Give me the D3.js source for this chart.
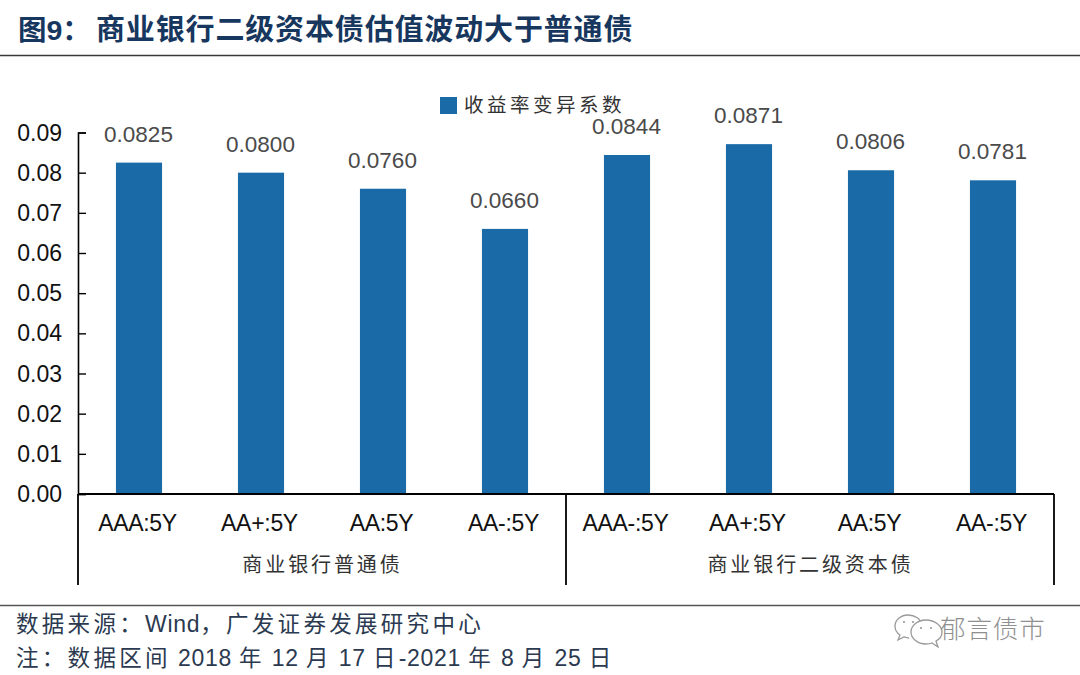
<!DOCTYPE html>
<html><head><meta charset="utf-8">
<script src="https://cdn.jsdelivr.net/npm/d3@7"></script>
<style>html,body{margin:0;padding:0;background:#fff}svg{display:block}
text{font-family:"Liberation Sans","Noto Sans CJK SC",sans-serif}</style></head>
<body><svg id="c" width="1080" height="675"></svg>
<script>
const titleText = ["图","9\uFF1A","商业银行二级资本债估值波动大于普通债"];
const categories = ["AAA:5Y","AA+:5Y","AA:5Y","AA-:5Y","AAA-:5Y","AA+:5Y","AA:5Y","AA-:5Y"];
const values = [0.0825,0.0800,0.0760,0.0660,0.0844,0.0871,0.0806,0.0781];
const valueLabels = ["0.0825","0.0800","0.0760","0.0660","0.0844","0.0871","0.0806","0.0781"];
const groups = ["商业银行普通债","商业银行二级资本债"];
const yTicks = [0,0.01,0.02,0.03,0.04,0.05,0.06,0.07,0.08,0.09];
const legendLabel = "收益率变异系数";
const source = "数据来源\uFF1AWind\uFF0C广发证券发展研究中心";
const note = "注\uFF1A数据区间 2018 年 12 月 17 日-2021 年 8 月 25 日";
const watermark = "郁言债市";

const svg = d3.select("#c");
const cjk = '"Noto Sans CJK SC",sans-serif';
const x = d3.scaleBand().domain(d3.range(categories.length)).range([78,1054]).paddingInner(0.622).paddingOuter(0.311);
const y = d3.scaleLinear().domain([0,0.09]).range([494,132.5]);
const gx = d3.scaleBand().domain(d3.range(groups.length)).range([78,1054]);

// title
const t = svg.append("text").attr("x",18).attr("y",40).attr("fill","#17375e")
  .attr("font-size",28.5).attr("font-weight",700).attr("font-family",cjk);
t.append("tspan").text(titleText[0]);
t.append("tspan").text(titleText[1]);
t.append("tspan").text(titleText[2]).attr("x",96).attr("font-size",29).attr("letter-spacing",0.85);
svg.append("line").attr("x1",0).attr("x2",1080).attr("y1",55.5).attr("y2",55.5).attr("stroke","#3a3a3a").attr("stroke-width",1.6);

// bars
svg.selectAll("rect.bar").data(values).join("rect").attr("class","bar")
  .attr("x",(d,i)=>x(i)).attr("width",x.bandwidth())
  .attr("y",d=>y(d)).attr("height",d=>y(0)-y(d)).attr("fill","#1a6aa8");
svg.selectAll("text.val").data(valueLabels).join("text").attr("class","val")
  .attr("x",(d,i)=>x(i)+x.bandwidth()/2-0.5).attr("y",(d,i)=>y(values[i])-21)
  .attr("text-anchor","middle").attr("font-size",22.5).attr("fill","#4a4a4a").text(d=>d);

// y axis
const yAxis = d3.axisRight(y).tickValues(yTicks).tickSize(8).tickFormat("");
const ya = svg.append("g").attr("transform","translate(78,0)").call(yAxis);
ya.selectAll("path").attr("stroke","#000").attr("stroke-width",1.6);
ya.selectAll("line").attr("stroke","#000").attr("stroke-width",1.4);
svg.selectAll("text.yt").data(yTicks).join("text").attr("class","yt")
  .attr("x",62).attr("y",d=>y(d)+8).attr("text-anchor","end")
  .attr("font-size",23).attr("fill","#111").text(d=>d3.format(".2f")(d));

// x axis and group separators
svg.append("line").attr("x1",78).attr("x2",1054).attr("y1",y(0)).attr("y2",y(0)).attr("stroke","#000").attr("stroke-width",1.8);
svg.selectAll("line.sep").data([0,1,2]).join("line").attr("class","sep")
  .attr("x1",d=>d<2?gx(d):1054).attr("x2",d=>d<2?gx(d):1054)
  .attr("y1",y(0)).attr("y2",585).attr("stroke","#000").attr("stroke-width",1.8);
svg.selectAll("text.cat").data(categories).join("text").attr("class","cat")
  .attr("x",(d,i)=>x(i)+x.bandwidth()/2-1.5).attr("y",531).attr("text-anchor","middle")
  .attr("font-size",23).attr("fill","#111").attr("letter-spacing",-0.3).text(d=>d);
svg.selectAll("text.grp").data(groups).join("text").attr("class","grp")
  .attr("x",(d,i)=>gx(i)+gx.bandwidth()/2+0.5).attr("y",572).attr("text-anchor","middle")
  .attr("font-size",20).attr("fill","#333").attr("letter-spacing",2.9)
  .attr("font-family",cjk).text(d=>d);

// legend
svg.append("rect").attr("x",440).attr("y",97).attr("width",17).attr("height",17).attr("fill","#1a6aa8");
svg.append("text").attr("x",464).attr("y",112).attr("font-size",19.5).attr("letter-spacing",3.5)
  .attr("fill","#333").attr("font-family",cjk).text(legendLabel);

// footer: CJK runs are spaced wider than Latin runs
function mixed(str, yPos){
  const el = svg.append("text").attr("x",16).attr("y",yPos).attr("font-size",23).attr("fill","#2b3a50");
  str.split(/([\x00-\x7F]+)/).filter(s=>s).forEach(s=>{
    const latin = /^[\x00-\x7F]+$/.test(s);
    el.append("tspan").style("white-space","pre")
      .attr("letter-spacing",latin?0.7:3.3).attr("font-size",latin?23:22.5).text(s);
  });
}
svg.append("line").attr("x1",0).attr("x2",1080).attr("y1",605.5).attr("y2",605.5).attr("stroke","#555").attr("stroke-width",1.4);
mixed(source,632);
mixed(note,666);

// watermark
const wm = svg.append("g").attr("fill","#fff").attr("stroke","#9a9a9a").attr("stroke-width",1.3);
wm.append("path").attr("d","M908 615c-7 0-13 5-13 11 0 4 2 7 5 9l-2 5 6-3c2 0 3 1 5 1 M908 615c7 0 13 4 14 10");
wm.append("path").attr("d","M926 620c-9 0-15 6-15 12s6 12 15 12c2 0 4 0 6-1l6 4-2-6c4-2 6-5 6-9 0-6-7-12-16-12z");
wm.selectAll("circle").data([[904,622],[913,622],[921,628],[931,628]]).join("circle")
  .attr("cx",d=>d[0]).attr("cy",d=>d[1]).attr("r",1.1).attr("fill","#9a9a9a").attr("stroke","none");
svg.append("text").attr("x",940).attr("y",638).attr("font-size",25.5).attr("letter-spacing",0.9)
  .attr("fill","#8f8f8f").attr("font-weight",300).attr("font-family",cjk).text(watermark);
</script></body></html>
